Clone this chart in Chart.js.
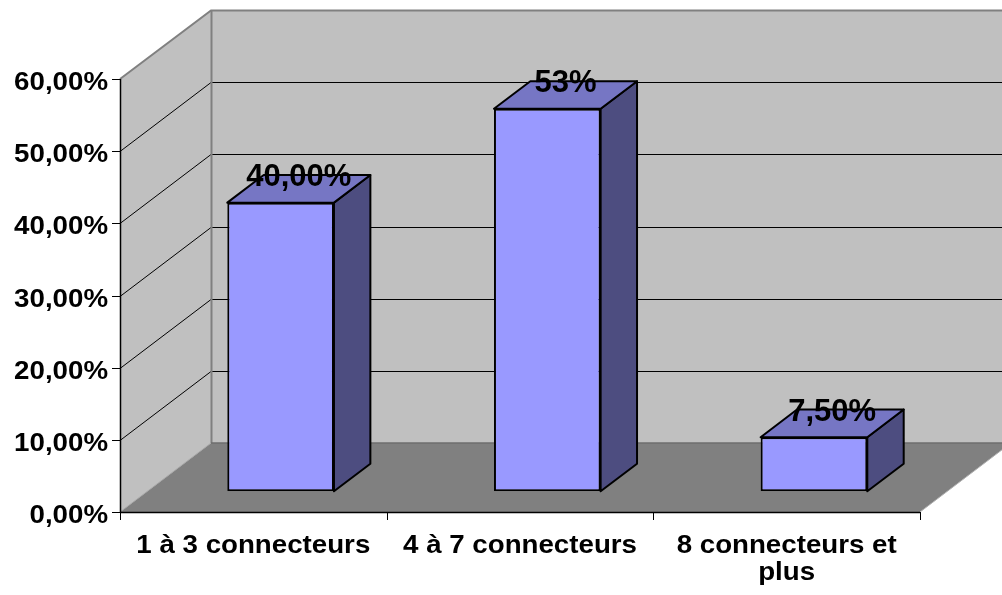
<!DOCTYPE html>
<html>
<head>
<meta charset="utf-8">
<script src="https://cdn.jsdelivr.net/npm/chart.js@4"></script>
<style>
  html, body { margin: 0; padding: 0; background: #fff; }
  canvas { display: block; }
</style>
</head>
<body>
<canvas id="myChart" width="1002" height="595"></canvas>
<script>
// data
const categories = ['1 à 3 connecteurs', '4 à 7 connecteurs', ['8 connecteurs et', 'plus']];
const shares = [40, 53, 7.5];
const shareLabels = ['40,00%', '53%', '7,50%'];
const yTicks = [0, 10, 20, 30, 40, 50, 60];
const yTickLabels = ['0,00%', '10,00%', '20,00%', '30,00%', '40,00%', '50,00%', '60,00%'];

// 3d look: full depth of the floor, where the bars sit in it
const depth = { dx: 91, dy: -69 };
const barFront = 0.3;   // gap between front edge of floor and bar front
const barDepth = 0.4;   // bar thickness, as part of the floor depth
const FONT = '"Liberation Sans", Arial, sans-serif';

function poly(ctx, pts) {
    ctx.beginPath();
    ctx.moveTo(pts[0][0], pts[0][1]);
    for (let i = 1; i < pts.length; i++) ctx.lineTo(pts[i][0], pts[i][1]);
    ctx.closePath();
}

function line(ctx, pts, color, width) {
    ctx.beginPath();
    ctx.moveTo(pts[0][0], pts[0][1]);
    for (let i = 1; i < pts.length; i++) ctx.lineTo(pts[i][0], pts[i][1]);
    ctx.strokeStyle = color;
    ctx.lineWidth = width;
    ctx.stroke();
}

// axis text is a bit wide in this style, so stretch it horizontally
function wideText(ctx, text, x, y, align) {
    ctx.save();
    ctx.translate(x, y);
    ctx.scale(1.065, 1);
    ctx.textAlign = align;
    ctx.fillText(text, 0, 0);
    ctx.restore();
}

const box3d = {
    id: 'box3d',
    beforeDatasetsDraw(chart) {
        const { ctx, scales: { x, y } } = chart;
        const { dx, dy } = depth;
        const l = x.left, r = x.right;
        const y0 = y.getPixelForValue(0);
        const yTop = y.getPixelForValue(yTicks[yTicks.length - 1]);

        ctx.save();
        // walls
        ctx.fillStyle = '#c0c0c0';
        poly(ctx, [[l, y0], [l + dx, y0 + dy], [l + dx, yTop + dy], [l, yTop]]);
        ctx.fill();
        ctx.fillRect(l + dx, yTop + dy, r - l, y0 - yTop);
        // floor
        ctx.fillStyle = '#808080';
        poly(ctx, [[l, y0], [r, y0], [r + dx, y0 + dy], [l + dx, y0 + dy]]);
        ctx.fill();

        // gridlines on side and back wall
        yTicks.slice(1, -1).forEach(v => {
            const py = Math.round(y.getPixelForValue(v)) + 0.5;
            line(ctx, [[l, py], [l + dx, py + dy], [r + dx, py + dy]], '#000', 1);
        });
        // wall edges
        line(ctx, [[l, yTop], [l + dx, yTop + dy + 0.5], [r + dx, yTop + dy + 0.5]], '#808080', 2);
        line(ctx, [[l + dx + 0.5, yTop + dy], [l + dx + 0.5, y0 + dy]], '#808080', 2);
        line(ctx, [[l + dx, y0 + dy], [r + dx, y0 + dy]], '#6e6e6e', 1.5);
        line(ctx, [[l, y0], [l + dx, y0 + dy]], '#a8a8a8', 1);
        line(ctx, [[r, y0], [r + dx, y0 + dy]], '#b0b0b0', 1);

        // value axis
        line(ctx, [[l + 0.5, yTop], [l + 0.5, y0]], '#000', 1.5);
        ctx.fillStyle = '#000';
        ctx.font = 'bold 26px ' + FONT;
        ctx.textBaseline = 'alphabetic';
        yTicks.forEach((v, i) => {
            const py = Math.round(y.getPixelForValue(v)) + 0.5;
            line(ctx, [[l - 8, py], [l, py]], '#000', 1);
            wideText(ctx, yTickLabels[i], l - 12, py + 10, 'right');
        });

        // category axis
        line(ctx, [[l, y0 + 0.5], [r, y0 + 0.5]], '#000', 1.5);
        const step = (r - l) / categories.length;
        for (let i = 0; i <= categories.length; i++) {
            const px = Math.round(l + i * step) + 0.5;
            line(ctx, [[px, y0], [px, y0 + 8]], '#000', 1);
        }
        categories.forEach((c, i) => {
            const lines = Array.isArray(c) ? c : [c];
            const cx = x.getPixelForValue(i);
            lines.forEach((t, j) => wideText(ctx, t, cx, y0 + 41 + j * 27, 'center'));
        });
        ctx.restore();

        // bars are drawn on a plane set back into the floor
        ctx.save();
        ctx.translate(dx * barFront, dy * barFront);
    },
    afterDatasetsDraw(chart) {
        const { ctx } = chart;
        const bdx = depth.dx * barDepth, bdy = depth.dy * barDepth;
        const bars = chart.getDatasetMeta(0).data;

        bars.forEach(bar => {
            const { x, y, base, width } = bar.getProps(['x', 'y', 'base', 'width'], true);
            const left = x - width / 2, right = x + width / 2;
            ctx.lineJoin = 'round';
            // side face
            ctx.fillStyle = '#4d4d80';
            poly(ctx, [[right, y], [right + bdx, y + bdy], [right + bdx, base + bdy], [right, base]]);
            ctx.fill();
            ctx.strokeStyle = '#000';
            ctx.lineWidth = 2;
            ctx.stroke();
            // top face
            ctx.fillStyle = '#7676c4';
            poly(ctx, [[left, y], [left + bdx, y + bdy], [right + bdx, y + bdy], [right, y]]);
            ctx.fill();
            ctx.stroke();
        });
        ctx.restore();

        // value labels sit over the back edge of each bar top
        ctx.save();
        ctx.fillStyle = '#000';
        ctx.font = 'bold 31px ' + FONT;
        ctx.textAlign = 'center';
        ctx.textBaseline = 'alphabetic';
        bars.forEach((bar, i) => {
            const { x, y } = bar.getProps(['x', 'y'], true);
            const lx = x + depth.dx * barFront + bdx / 2;
            const ly = y + depth.dy * barFront + bdy + 11;
            ctx.fillText(shareLabels[i], lx, ly);
        });
        ctx.restore();
    }
};

// config
const config = {
    type: 'bar',
    data: {
        labels: categories,
        datasets: [{
            data: shares,
            backgroundColor: '#9999ff',
            borderColor: '#000',
            borderWidth: 2,
            borderSkipped: false,
            barPercentage: 0.4,
            categoryPercentage: 1
        }]
    },
    options: {
        responsive: false,
        animation: false,
        devicePixelRatio: 1,
        events: [],
        layout: {
            padding: { left: 120, right: 82, top: 79, bottom: 83 }
        },
        plugins: {
            legend: { display: false },
            tooltip: { enabled: false }
        },
        scales: {
            x: { display: false, offset: true },
            y: { display: false, min: 0, max: 60 }
        }
    },
    plugins: [box3d]
};

// render init block
const myChart = new Chart(document.getElementById('myChart'), config);
</script>
</body>
</html>
